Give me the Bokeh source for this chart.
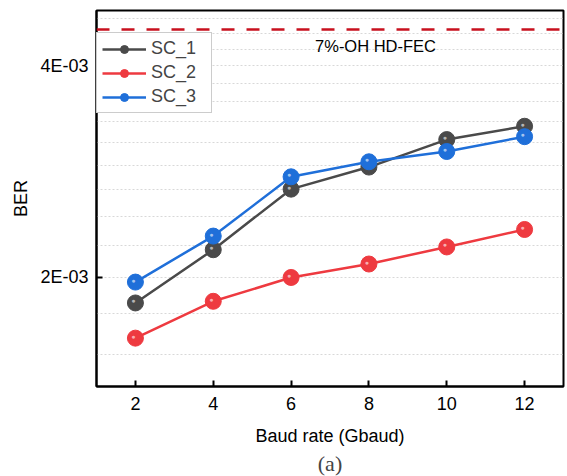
from bokeh.plotting import figure
from bokeh.models import FixedTicker, Span, Label, Legend, LegendItem, Title, ColumnDataSource
from bokeh.core.properties import value
from bokeh.embed import file_html
from bokeh.resources import INLINE

# ---- data ----
baud = [2, 4, 6, 8, 10, 12]
sc1 = [1.84e-3, 2.19e-3, 2.67e-3, 2.87e-3, 3.14e-3, 3.28e-3]
sc2 = [1.64e-3, 1.85e-3, 2.00e-3, 2.09e-3, 2.21e-3, 2.34e-3]
sc3 = [1.97e-3, 2.29e-3, 2.78e-3, 2.92e-3, 3.02e-3, 3.17e-3]
series_names = ["SC_1", "SC_2", "SC_3"]
series_colors = ["#4a4a4a", "#ee3a40", "#1f6fd9"]

x_ticks = [2, 4, 6, 8, 10, 12]
y_ticks = [2e-3, 4e-3]
y_tick_labels = ["2E-03", "4E-03"]
y_minor = [1.556e-3, 1.778e-3, 2.222e-3, 2.444e-3, 2.667e-3, 2.889e-3,
           3.111e-3, 3.333e-3, 3.556e-3, 3.778e-3, 4.222e-3, 4.444e-3, 4.667e-3]
fec_threshold = 4.5e-3
fec_label = "7%-OH HD-FEC"
fec_label_x = 8.17
fec_label_y = 4.27e-3

FONT = "Liberation Sans"

p = figure(width=567, height=476, output_backend="svg", toolbar_location=None,
           y_axis_type="log", x_range=(1, 13), y_range=(1.40e-3, 4.79e-3),
           min_border_left=96, min_border_right=4, min_border_top=10, min_border_bottom=90)

p.outline_line_color = "black"
p.outline_line_width = 2
p.background_fill_color = "white"
p.border_fill_color = "white"

# grids
p.xgrid.visible = False
p.ygrid.grid_line_color = "#d8d8d8"
p.ygrid.grid_line_dash = "2 2"
p.ygrid.grid_line_width = 1
p.ygrid.minor_grid_line_color = "#d8d8d8"
p.ygrid.minor_grid_line_dash = "2 2"
p.ygrid.minor_grid_line_width = 1

# axes
p.xaxis.ticker = FixedTicker(ticks=x_ticks)
p.yaxis.ticker = FixedTicker(ticks=y_ticks, minor_ticks=y_minor)
p.yaxis.major_label_overrides = {t: l for t, l in zip(y_ticks, y_tick_labels)}
for ax in (p.xaxis[0], p.yaxis[0]):
    ax.axis_line_width = 2
    ax.axis_line_color = "black"
    ax.major_tick_in = 6
    ax.major_tick_out = 0
    ax.major_tick_line_width = 2
    ax.minor_tick_in = 0
    ax.minor_tick_out = 0
    ax.major_label_text_font = FONT
    ax.major_label_text_font_size = "18px"
    ax.major_label_text_color = "black"
    ax.axis_label_text_font = FONT
    ax.axis_label_text_font_size = "18px"
    ax.axis_label_text_font_style = "normal"
    ax.axis_label_text_color = "black"
p.xaxis.axis_label = "Baud rate (Gbaud)"
p.yaxis.axis_label = "BER"
p.xaxis.major_label_standoff = 10
p.xaxis.axis_label_standoff = 13
p.yaxis.major_label_standoff = 8
p.yaxis.axis_label_standoff = 6

# threshold
p.add_layout(Span(location=fec_threshold, dimension="width", line_color="#c8101e",
                  line_width=2.5, line_dash="13 12"))
p.add_layout(Label(x=fec_label_x, y=fec_label_y, text=fec_label, text_align="center",
                   text_baseline="middle", text_font=FONT, text_font_size="16.5px",
                   text_color="black"))

items = []
for name, ys, col in zip(series_names, [sc1, sc2, sc3], series_colors):
    src = ColumnDataSource(dict(x=baud, y=ys))
    ln = p.line("x", "y", source=src, line_color=col, line_width=2.5)
    mk = p.scatter("x", "y", source=src, size=16, fill_color=col, line_color=col, line_width=1)
    p.text("x", "y", source=src, text=value("●"), text_color="white", text_alpha=0.6,
           text_font_size="7px", text_align="center", text_baseline="middle",
           x_offset=-2, y_offset=-2)
    items.append(LegendItem(label=name, renderers=[ln, mk]))

legend = Legend(items=items, location=(0, 273), glyph_width=44, glyph_height=20,
                spacing=3, padding=5, margin=0, label_standoff=5, label_width=55,
                label_text_font=FONT, label_text_font_size="18px",
                border_line_color="#9a9a9a", border_line_width=1.5,
                background_fill_color="white", background_fill_alpha=1)
p.add_layout(legend, "center")

p.add_layout(Title(text="(a)", align="center", text_font="Liberation Serif",
                   text_font_size="22px", text_font_style="normal", standoff=0), "below")

open("out.html", "w").write(file_html(p, INLINE))
